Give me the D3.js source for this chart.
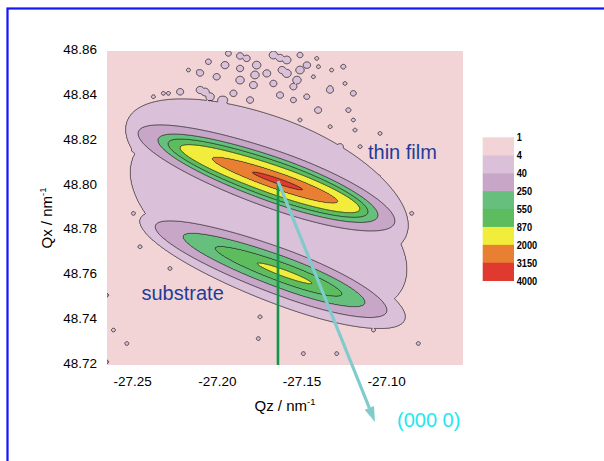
<!DOCTYPE html>
<html><head><meta charset="utf-8">
<script src="https://cdn.jsdelivr.net/npm/d3@7"></script>
<style>html,body{margin:0;padding:0;background:#fff;} svg{display:block;font-family:Arial,"Liberation Sans",sans-serif;}</style>
</head><body><svg id="c" width="604" height="461"></svg>
<script>
// ---------- data ----------
const levels = [4, 40, 250, 550, 870, 2000, 3150];
const levelColors = ["#dbc0d9", "#c8a6c8", "#66bf7c", "#5dbc5d", "#f2ec3a", "#e97f33", "#e03a30"];
const legendTicks = [1, 4, 40, 250, 550, 870, 2000, 3150, 4000];
const legendColors = ["#f2d4d6", "#dbc0d9", "#c8a6c8", "#66bf7c", "#5dbc5d", "#f2ec3a", "#e97f33", "#e03a30"];
const xTicks = [-27.25, -27.20, -27.15, -27.10];
const yTicks = [48.72, 48.74, 48.76, 48.78, 48.80, 48.82, 48.84, 48.86];

// thin film peak (Qz, Qx), tilt, max counts, contour half-extents per level
const filmCenter = [-27.1639, 48.8012];
const filmSlope = -0.257;
const filmPeak = 3900;
const filmLeft  = [0.0898, 0.0827, 0.0709, 0.0650, 0.0579, 0.0390, 0.0154];
const filmRight = [0.0768, 0.0691, 0.0591, 0.0532, 0.0484, 0.0354, 0.0148];
const filmThick = [0.0286, 0.0134, 0.0105, 0.0087, 0.0067, 0.0040, 0.0013];

// substrate peak
const subCenter = [-27.1603, 48.7601];
const subSlope = -0.272;
const subPeak = 1200;
const subLeft  = [0.0851, 0.0762, 0.0597, 0.0408, 0.0160];
const subRight = [0.0715, 0.0608, 0.0479, 0.0343, 0.0165];
const subThick = [0.0152, 0.0109, 0.0075, 0.0046, 0.0016];

// diffuse scatter joining both peaks
const diffCenter = [-27.1674, 48.7829];
const diffSlope = -0.265;
const diffPeak = 8;
const diffLeft = [0.0839], diffRight = [0.0798], diffThick = [0.0357];

// isolated noise spots (Qz, Qx, counts)
const speckQz = [-27.1932,-27.1824,-27.1666,-27.1587,-27.1509,-27.1469,-27.1410,-27.2050,-27.1952,-27.1863,-27.1765,-27.1705,-27.1587,-27.1509,-27.1400,-27.1322,-27.1253,-27.2168,-27.2109,-27.2001,-27.1863,-27.1784,-27.1666,-27.1548,-27.1430,-27.1331,-27.1243,-27.1194,-27.2286,-27.2217,-27.2099,-27.2040,-27.1961,-27.1902,-27.1627,-27.1548,-27.1469,-27.2375,-27.2316,-27.1223,-27.1194,-27.1184,-27.1509,-27.1705,-27.1509,-27.1331,-27.1036,-27.1272,-27.1331,-27.1154,-27.2493,-27.2483,-27.0849,-27.2493,-27.1942,-27.1056,-27.2454,-27.2277,-27.1745,-27.2611,-27.2532,-27.1755,-27.1489,-27.1292,-27.1075,-27.0810,-27.2651,-27.2651,-27.1026,-27.1095,-27.1046,
  -27.1627,-27.1615,-27.2070,-27.1970,-27.1775,-27.1527,-27.1467,-27.2099,-27.1863,-27.1804,-27.1332,-27.1402];
const speckQx = [48.8582,48.8560,48.8575,48.8553,48.8575,48.8530,48.8560,48.8545,48.8530,48.8515,48.8530,48.8493,48.8493,48.8508,48.8523,48.8508,48.8523,48.8508,48.8501,48.8478,48.8463,48.8441,48.8448,48.8434,48.8478,48.8426,48.8448,48.8404,48.8404,48.8411,48.8419,48.8389,48.8374,48.8404,48.8396,48.8374,48.8389,48.8389,48.8404,48.8329,48.8285,48.8240,48.8285,48.8270,48.8210,48.8255,48.8225,48.8166,48.8143,48.8166,48.8151,48.8113,48.7868,48.7868,48.7853,48.7689,48.7719,48.7622,48.7406,48.7347,48.7287,48.7309,48.7242,48.7242,48.7347,48.7287,48.7503,48.7205,48.7503,48.8046,48.8032,
  48.8562,48.8508,48.8410,48.8374,48.8486,48.8463,48.8530,48.8495,48.8571,48.8374,48.8419,48.8329];
const speckCounts = [8,10,14,14,8,10,6,8,12,10,14,12,16,14,6,6,7,6,6,10,14,12,10,10,6,8,6,8,6,10,12,14,14,10,10,8,8,6,6,7,6,6,6,6,6,6,6,9,7,6,6,6,6,6,6,6,6,6,6,6,6,6,6,6,6,6,6,6,6,6,6,
  12,12,14,14,14,14,10,10,10,10,10,10];

// annotation: direction towards (000 0)
const originDir = [-27.1066, 48.6937];

// ---------- layout ----------
const svg = d3.select("#c");
const PL = 107, PT = 51, PR = 463, PB = 365;
const x = d3.scaleLinear().domain([-27.2649, -27.0546]).range([PL, PR]);
const y = d3.scaleLinear().domain([48.7191, 48.8593]).range([PB, PT]);

svg.append("rect").attr("width", 604).attr("height", 461).attr("fill", "#fff");

// ---------- field ----------
function bandValue(dz, dq, left, right, thick, lv, peak) {
  const n = lv.length, r = new Array(n);
  for (let k = 0; k < n; k++) {
    const a = dz < 0 ? left[k] : right[k];
    r[k] = Math.hypot(dz / a, dq / thick[k]);
  }
  const L = lv.map(Math.log);
  if (r[0] > 1) return Math.exp(L[0] - (r[0] - 1) * 4);
  let k = 0; while (k + 1 < n && r[k + 1] <= 1) k++;
  if (k === n - 1) return Math.exp(L[k] + (Math.log(peak) - L[k]) * (1 - r[k]));
  const t = (1 - r[k]) / ((1 - r[k]) + (r[k + 1] - 1));
  return Math.exp(L[k] + t * (L[k + 1] - L[k]));
}
const comps = [
  {c: filmCenter, s: filmSlope, p: filmPeak, l: filmLeft, r: filmRight, t: filmThick},
  {c: subCenter, s: subSlope, p: subPeak, l: subLeft, r: subRight, t: subThick},
  {c: diffCenter, s: diffSlope, p: diffPeak, l: diffLeft, r: diffRight, t: diffThick}
];
const speckRz = 0.0052, speckRq = 0.0036;
const nx = PR - PL, ny = PB - PT;
const [z0, z1] = x.domain(); const [q0, q1] = y.domain();
const dzC = (z1 - z0) / nx, dqC = (q1 - q0) / ny;
const values = new Float64Array(nx * ny);
for (let j = 0; j < ny; j++) {
  const qx = q1 - (j + 0.5) * dqC;
  for (let i = 0; i < nx; i++) {
    const qz = z0 + (i + 0.5) * dzC;
    let v = 1;
    for (const cp of comps) {
      const dz = qz - cp.c[0];
      const dq = (qx - cp.c[1]) - cp.s * dz;
      const lv = levels.slice(0, cp.l.length);
      v = Math.max(v, bandValue(dz, dq, cp.l, cp.r, cp.t, lv, cp.p));
    }
    for (let s = 0; s < speckQz.length; s++) {
      const a = (qz - speckQz[s]) / speckRz; if (a > 1 || a < -1) continue;
      const b = (qx - speckQx[s]) / speckRq; if (b > 1 || b < -1) continue;
      const rr = Math.hypot(a, b);
      if (rr < 1) v = Math.max(v, Math.exp(Math.log(speckCounts[s]) * (1 - rr)));
    }
    values[j * nx + i] = v;
  }
}
const contours = d3.contours().size([nx, ny]).thresholds(levels)(values);
const tr = d3.geoTransform({point(px, py) { this.stream.point(x(z0 + px * dzC), y(q1 - py * dqC)); }});
const path = d3.geoPath(tr);

svg.append("clipPath").attr("id", "clip").append("rect")
  .attr("x", PL).attr("y", PT).attr("width", nx).attr("height", ny);
const plot = svg.append("g").attr("clip-path", "url(#clip)");
plot.append("rect").attr("x", PL).attr("y", PT).attr("width", nx).attr("height", ny).attr("fill", legendColors[0]);
plot.selectAll("path.c").data(contours).join("path").attr("class", "c")
  .attr("d", path)
  .attr("fill", (d, i) => levelColors[i])
  .attr("stroke", "#1a1a1a").attr("stroke-width", 0.75).attr("stroke-linejoin", "round");

// ---------- axes ----------
const yAxis = svg.append("g").attr("transform", `translate(${PL},0)`)
  .call(d3.axisLeft(y).tickValues(yTicks).tickSize(0).tickPadding(10).tickFormat(d => d.toFixed(2)));
const xAxis = svg.append("g").attr("transform", `translate(0,${PB})`)
  .call(d3.axisBottom(x).tickValues(xTicks).tickSize(0).tickPadding(11).tickFormat(d => d.toFixed(2)));
[yAxis, xAxis].forEach(g => {
  g.select(".domain").remove();
  g.selectAll("text").attr("font-size", 13.5).attr("fill", "#000").attr("font-family", "Arial, 'Liberation Sans', sans-serif");
});

const xt = svg.append("text").attr("x", (PL + PR) / 2).attr("y", 410.5).attr("text-anchor", "middle")
  .attr("font-size", 15).attr("fill", "#000");
xt.append("tspan").text("Qz / nm");
xt.append("tspan").attr("dy", -6).attr("font-size", 9.5).text("-1");
const yt = svg.append("text").attr("transform", "translate(52,218) rotate(-90)").attr("text-anchor", "middle")
  .attr("font-size", 15).attr("fill", "#000");
yt.append("tspan").text("Qx / nm");
yt.append("tspan").attr("dy", -6).attr("font-size", 9.5).text("-1");

// ---------- annotations ----------
svg.append("line")
  .attr("x1", x(filmCenter[0])).attr("x2", x(filmCenter[0]))
  .attr("y1", y(filmCenter[1])).attr("y2", PB)
  .attr("stroke", "#12964a").attr("stroke-width", 2.6);

const ax0 = x(filmCenter[0]), ay0 = y(filmCenter[1]), ax1 = x(originDir[0]), ay1 = y(originDir[1]);
const ang = Math.atan2(ay1 - ay0, ax1 - ax0), hl = 15, hw = 5;
const bx = ax1 - hl * Math.cos(ang), by = ay1 - hl * Math.sin(ang);
svg.append("line").attr("x1", ax0).attr("y1", ay0).attr("x2", bx).attr("y2", by)
  .attr("stroke", "#80cbcb").attr("stroke-width", 3.2);
svg.append("path")
  .attr("d", `M${ax1},${ay1}L${bx - hw * Math.sin(ang)},${by + hw * Math.cos(ang)}L${bx + hw * Math.sin(ang)},${by - hw * Math.cos(ang)}Z`)
  .attr("fill", "#80cbcb");

svg.append("text").attr("x", 368).attr("y", 158.5).attr("font-size", 20).attr("fill", "#1f3c98").text("thin film");
svg.append("text").attr("x", 141.5).attr("y", 300).attr("font-size", 20).attr("fill", "#1f3c98").text("substrate");
svg.append("text").attr("x", 397).attr("y", 426.5).attr("font-size", 20).attr("fill", "#1ee8ef").text("(000 0)");

// ---------- legend ----------
const ly = d3.scaleLinear().domain([0, legendColors.length]).range([137.3, 280.7]);
svg.append("g").selectAll("rect").data(legendColors).join("rect")
  .attr("x", 482.7).attr("width", 31.3)
  .attr("y", (d, i) => ly(i)).attr("height", (d, i) => ly(i + 1) - ly(i) + 0.3)
  .attr("fill", d => d);
svg.append("g").selectAll("g").data(legendTicks).join("g")
  .attr("transform", (d, i) => `translate(516.7,${ly(i)})`)
  .append("text").attr("transform", "scale(0.8,1)").attr("dy", "0.35em")
  .attr("font-size", 11.5).attr("font-weight", "bold").attr("fill", "#000").text(d => d);

// ---------- frame ----------
svg.append("rect").attr("x", 7.5).attr("y", 8.5).attr("width", 700).attr("height", 600)
  .attr("fill", "none").attr("stroke", "#1515f5").attr("stroke-width", 2.2);
</script></body></html>
